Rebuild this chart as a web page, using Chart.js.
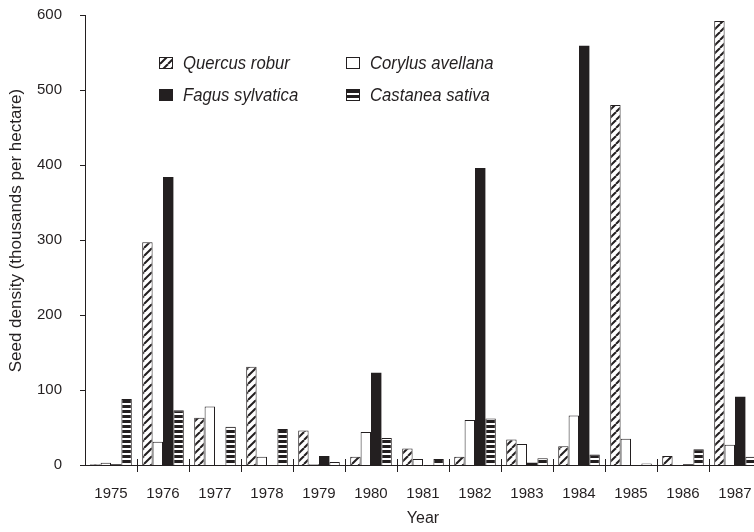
<!DOCTYPE html>
<html>
<head>
<meta charset="utf-8">
<script src="https://cdn.jsdelivr.net/npm/chart.js@4/dist/chart.umd.min.js"></script>
<style>
html,body{margin:0;padding:0;background:#fff;overflow:hidden;width:754px;height:532px;}
canvas{display:block;}
</style>
</head>
<body>
<canvas id="c" width="764" height="532"></canvas>
<script>
const years = ['1975','1976','1977','1978','1979','1980','1981','1982','1983','1984','1985','1986','1987'];
const quercus  = [1, 297, 63, 131, 46, 11, 22, 11, 34, 25, 480, 12, 592];
const corylus  = [3, 31, 78, 11, 1, 44, 8, 60, 28, 66, 35, 0, 27];
const fagus    = [1, 384, 0, 0, 12, 123, 0, 396, 3, 559, 0, 1, 91];
const castanea = [88, 73, 51, 48, 4, 36, 8, 62, 9, 14, 2, 21, 11];
const seriesNames = ['Quercus robur', 'Corylus avellana', 'Fagus sylvatica', 'Castanea sativa'];
const yTicks = [0, 100, 200, 300, 400, 500, 600];

const INK = '#231f20';
const REG = '"Liberation Sans", Arial, sans-serif';

function makeHatch() {
  const t = document.createElement('canvas');
  t.width = 8; t.height = 8;
  const g = t.getContext('2d');
  g.fillStyle = '#fff'; g.fillRect(0,0,8,8);
  g.strokeStyle = INK; g.lineWidth = 2;
  for (const o of [-8, 0, 8]) {
    g.beginPath(); g.moveTo(o, 8); g.lineTo(o + 8, 0); g.stroke();
  }
  return g.createPattern(t, 'repeat');
}
function makeStripes() {
  const t = document.createElement('canvas');
  t.width = 4; t.height = 5;
  const g = t.getContext('2d');
  g.fillStyle = '#fff'; g.fillRect(0,0,4,5);
  g.fillStyle = INK; g.fillRect(0,0,4,3);
  return g.createPattern(t, 'repeat');
}
const ctx0 = document.getElementById('c').getContext('2d');
const hatch = makeHatch();
const stripes = makeStripes();

const styles = [
  {backgroundColor: hatch, borderColor: INK, borderWidth: 1},
  {backgroundColor: '#ffffff', borderColor: INK, borderWidth: 1},
  {backgroundColor: INK, borderColor: INK, borderWidth: 0},
  {backgroundColor: stripes, borderColor: INK, borderWidth: 1}
];
const values = [quercus, corylus, fagus, castanea];

const datasets = values.map((v, i) => Object.assign({
  label: seriesNames[i],
  data: v,
  barPercentage: 1.0,
  categoryPercentage: 0.8,
  borderSkipped: 'bottom'
}, styles[i]));

const tickPlugin = {
  id: 'ticks',
  afterDraw(chart) {
    const ctx = chart.ctx;
    const x = chart.scales.x, y = chart.scales.y;
    ctx.save();
    ctx.strokeStyle = INK; ctx.lineWidth = 1;
    const n = years.length;
    const w = (x.right - x.left) / n;
    for (let i = 1; i < n; i++) {
      const px = Math.round(x.left + i * w) + 0.5;
      ctx.beginPath(); ctx.moveTo(px, y.bottom - 6); ctx.lineTo(px, y.bottom + 7); ctx.stroke();
    }
    for (const v of yTicks) {
      const py = Math.round(y.getPixelForValue(v)) + 0.5;
      ctx.beginPath(); ctx.moveTo(x.left - 5, py); ctx.lineTo(x.left, py); ctx.stroke();
    }
    // legend
    const items = [
      {name: seriesNames[0], s: styles[0], ix: 159, iy: 63},
      {name: seriesNames[1], s: styles[1], ix: 346, iy: 63},
      {name: seriesNames[2], s: styles[2], ix: 159, iy: 95},
      {name: seriesNames[3], s: styles[3], ix: 346, iy: 95}
    ];
    ctx.textBaseline = 'middle';
    ctx.textAlign = 'left';
    for (const it of items) {
      ctx.fillStyle = it.s.backgroundColor;
      ctx.fillRect(it.ix, it.iy - 6, 14, 12);
      if (it.s.borderWidth) {
        ctx.strokeStyle = INK;
        ctx.strokeRect(it.ix + 0.5, it.iy - 5.5, 13, 11);
      }
      ctx.save();
      ctx.translate(it.ix + 24, it.iy + 1);
      ctx.scale(0.88, 1);
      ctx.font = 'italic 19px ' + REG;
      ctx.fillStyle = INK;
      ctx.fillText(it.name, 0, 0);
      ctx.restore();
    }
    ctx.restore();
  }
};

new Chart(ctx0, {
  type: 'bar',
  data: { labels: years, datasets },
  options: {
    responsive: false,
    animation: false,
    layout: { padding: { left: 0, right: 3, top: 15, bottom: 0 } },
    plugins: { legend: { display: false }, tooltip: { enabled: false } },
    scales: {
      x: {
        grid: { display: false },
        border: { display: true, color: INK, width: 1 },
        ticks: { color: INK, font: { family: REG, size: 15 }, padding: 12, maxRotation: 0, autoSkip: false },
        title: { display: true, text: 'Year', color: INK, font: { family: REG, size: 16 }, padding: { top: 0, bottom: 4 } },
        afterFit(s) { s.height = 67; s.paddingLeft = 0; s.paddingRight = 0; }
      },
      y: {
        min: 0, max: 600,
        afterBuildTicks(s) { s.ticks = yTicks.map(v => ({value: v})); },
        grid: { display: false },
        border: { display: true, color: INK, width: 1 },
        ticks: { color: INK, font: { family: REG, size: 15 }, padding: 15 },
        title: { display: true, text: '    Seed density (thousands per hectare)', color: INK, font: { family: REG, size: 17 }, padding: { top: 6, bottom: 0 } },
        afterFit(s) { s.width = 85; s.paddingTop = 0; s.paddingBottom = 0; }
      }
    }
  },
  plugins: [tickPlugin]
});
</script>
</body>
</html>
